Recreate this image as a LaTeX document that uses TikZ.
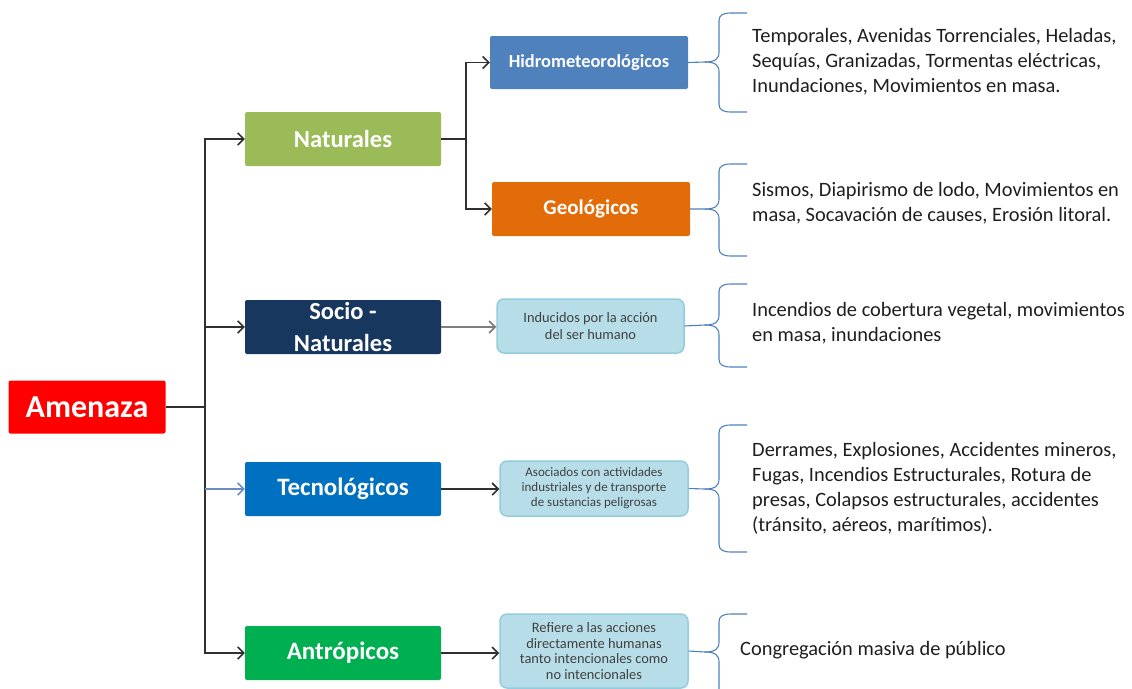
\documentclass[tikz,border=0pt]{standalone}
\usepackage{fontspec}
\setmainfont{Carlito}
\usetikzlibrary{arrows.meta}
\definecolor{cred}{HTML}{FF0000}
\definecolor{cnat}{HTML}{9BBB59}
\definecolor{csoc}{HTML}{17375E}
\definecolor{ctec}{HTML}{0070C0}
\definecolor{cant}{HTML}{00B050}
\definecolor{chid}{HTML}{4F81BD}
\definecolor{cgeo}{HTML}{E36C0A}
\definecolor{lblue}{HTML}{B7DEE8}
\definecolor{lborder}{HTML}{93CDDD}
\definecolor{boxtxt}{HTML}{404040}
\definecolor{bracecol}{HTML}{4F81BD}
\definecolor{rtxt}{HTML}{1E1E1E}
\definecolor{lncol}{HTML}{303030}
\definecolor{lngray}{HTML}{7F7F7F}
\definecolor{lnblue}{HTML}{6A8CC0}
\newcommand\mybrace[4]{%
  \draw[brc] (#1) -- (705,#2) .. controls (715,#2) and (719,#2-3) .. (719,#2-10) -- (719,#3+8) .. controls (719,#3+2) and (723,#3) .. (731,#3) -- (747,#3);
  \draw[brc] (705,#2) .. controls (715,#2) and (719,#2+3) .. (719,#2+10) -- (719,#4-8) .. controls (719,#4-2) and (723,#4) .. (731,#4) -- (747,#4);
}
\begin{document}
\begin{tikzpicture}[x=1pt,y=-1pt,
 box/.style={rectangle, rounded corners=2pt, inner sep=0pt, text=white, align=center},
 lbox/.style={rectangle, rounded corners=7pt, fill=lblue, draw=lborder, line width=1.5pt, inner sep=0pt, text=boxtxt, align=center},
 conn/.style={line width=1.6pt, draw=lncol},
 arr/.style={conn, -{Straight Barb[length=6pt,width=12pt]}},
 brc/.style={draw=bracecol, line width=1.1pt},
 rtext/.style={anchor=base west, inner sep=0pt, align=left, text=rtxt, font=\fontsize{20.4}{25}\selectfont}
]
\useasboundingbox (0,0) rectangle (1132,688);
\clip (0,0) rectangle (1132,688);

\node[box, fill=cred, minimum width=157pt, minimum height=53pt, font=\fontsize{32}{38}\selectfont\bfseries] (amen) at (87,407) {Amenaza};
\node[box, fill=cnat, minimum width=196pt, minimum height=54pt, font=\fontsize{24.5}{29}\selectfont\bfseries] (nat) at (343,139) {Naturales};
\node[box, fill=csoc, minimum width=196pt, minimum height=54pt, font=\fontsize{24.5}{32}\selectfont\bfseries] (soc) at (343,327) {Socio -\\Naturales};
\node[box, fill=ctec, minimum width=196pt, minimum height=54pt, font=\fontsize{25}{30}\selectfont\bfseries] (tec) at (343,489) {Tecnológicos};
\node[box, fill=cant, minimum width=196pt, minimum height=54pt, font=\fontsize{25}{30}\selectfont\bfseries] (ant) at (343,653) {Antrópicos};
\node[box, fill=chid, minimum width=198pt, minimum height=53pt, font=\fontsize{18.4}{22}\selectfont\bfseries] (hid) at (589,62.5) {Hidrometeorológicos};
\node[box, fill=cgeo, minimum width=198pt, minimum height=54pt, font=\fontsize{21}{25}\selectfont\bfseries] (geo) at (591,209) {Geológicos};

\node[lbox, minimum width=187pt, minimum height=54pt, font=\fontsize{14.4}{17}\selectfont] (ind) at (590.5,326) {Inducidos por la acción\\del ser humano};
\node[lbox, minimum width=188pt, minimum height=55pt, font=\fontsize{13}{15}\selectfont] (aso) at (594,488.5) {Asociados con actividades\\industriales y de transporte\\de sustancias peligrosas};
\node[lbox, minimum width=188pt, minimum height=74pt, font=\fontsize{14.4}{15.5}\selectfont] (ref) at (594,651) {Refiere  a las acciones\\directamente humanas\\tanto intencionales como\\no intencionales};

\coordinate (tA) at (205,139);
\coordinate (tB) at (205,653);
\coordinate (nB) at (466,139);
\draw[conn] (amen.east) -- (amen.east -| tA);
\draw[conn, line cap=rect] (tA) -- (tB);
\draw[arr] (tA) -- (nat.west);
\draw[arr] (soc.west -| tA) -- (soc.west);
\draw[arr, draw=lnblue] (tec.west -| tA) -- (tec.west);
\draw[arr] (tB) -- (ant.west);

\draw[conn] (nat.east) -- (nB);
\draw[arr] (nB) |- (hid.west);
\draw[arr] (nB) |- (geo.west);

\draw[arr, draw=lngray] (soc.east) -- (soc.east -| ind.west);
\draw[arr] (tec.east) -- (tec.east -| aso.west);
\draw[arr] (ant.east) -- (ant.east -| ref.west);

\mybrace{hid.east}{62}{13}{112}
\mybrace{geo.east}{209}{164}{256}
\mybrace{ind.east}{325}{284}{367}
\mybrace{aso.east}{489}{425}{552}
\mybrace{ref.east}{652}{614}{700}

\node[rtext] (t1) at (752,92) {Temporales, Avenidas Torrenciales, Heladas,\\Sequías, Granizadas, Tormentas eléctricas,\\Inundaciones, Movimientos en masa.};
\node[rtext] (t2) at (752,221) {Sismos, Diapirismo de lodo, Movimientos en\\masa, Socavación de causes, Erosión litoral.};
\node[rtext] (t3) at (752,341) {Incendios de cobertura vegetal, movimientos\\en masa, inundaciones};
\node[rtext] (t4) at (752,531) {Derrames, Explosiones, Accidentes mineros,\\Fugas, Incendios Estructurales, Rotura de\\presas, Colapsos estructurales, accidentes\\(tránsito, aéreos, marítimos).};
\node[rtext] (t5) at (740,655) {Congregación masiva de público};
\end{tikzpicture}
\end{document}
